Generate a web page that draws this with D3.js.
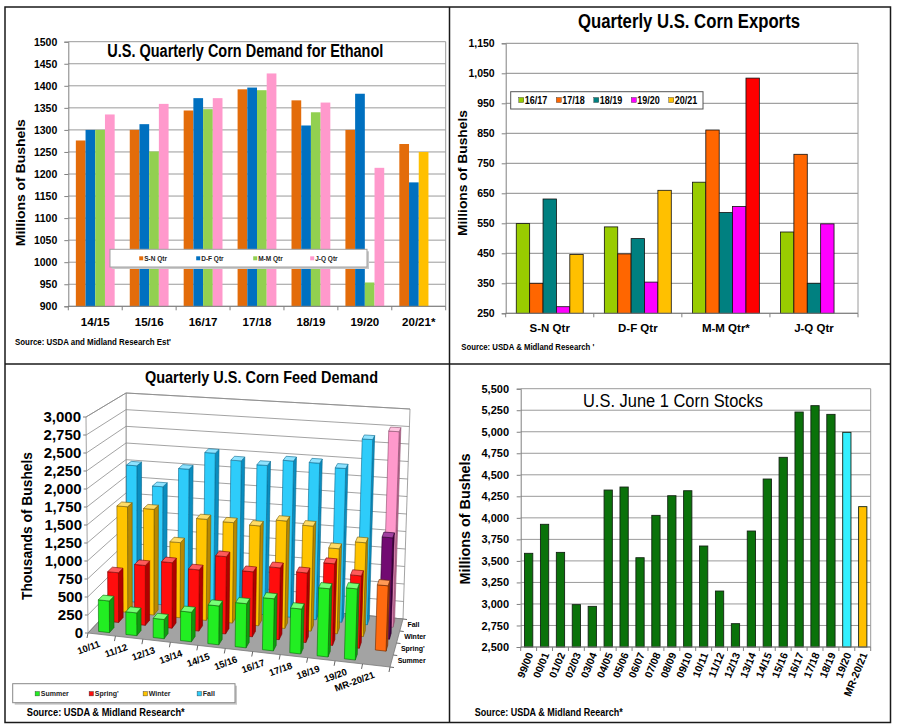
<!DOCTYPE html>
<html><head><meta charset="utf-8">
<script src="https://cdn.jsdelivr.net/npm/d3@7/dist/d3.min.js"></script>
<style>
html,body{margin:0;padding:0;background:#fff;}
svg text{font-family:"Liberation Sans",Arial,Helvetica,sans-serif;}
</style></head><body>
<svg id="chart" width="897" height="728" viewBox="0 0 897 728"></svg>
<script>
// ---------------- DATA ----------------
// Top-left: U.S. Quarterly Corn Demand for Ethanol
const ethCategories = ["14/15","15/16","16/17","17/18","18/19","19/20","20/21*"];
const ethSeries = ["S-N Qtr","D-F Qtr","M-M Qtr","J-Q Qtr"];
const ethSN = [1276,1300,1344,1392,1367,1300,1268];
const ethDF = [1300,1313,1372,1396,1310,1382,1181];
const ethMM = [1300,1251,1347,1390,1340,954,1250];
const ethJQ = [1335,1359,1372,1428,1362,1214,null];
const ethTicks = [900,950,1000,1050,1100,1150,1200,1250,1300,1350,1400,1450,1500];

// Top-right: Quarterly U.S. Corn Exports
const expCategories = ["S-N Qtr","D-F Qtr","M-M Qtr*","J-Q Qtr"];
const expSeries = ["16/17","17/18","18/19","19/20","20/21"];
const exp1617 = [549,538,687,521];
const exp1718 = [350,448,861,780];
const exp1819 = [631,499,586,350];
const exp1920 = [272,354,606,548];
const exp2021 = [446,660,1034,null];
const expTicks = [250,350,450,550,650,750,850,950,1050,1150];

// Bottom-left: Quarterly U.S. Corn Feed Demand (3-D)
const feedCategories = ["10/11","11/12","12/13","13/14","14/15","15/16","16/17","17/18","18/19","19/20","MR-20/21"];
const feedSeries = ["Summer","Spring'","Winter","Fall"];
const feedSummer = [440,315,265,405,530,600,705,605,915,950,null];
const feedSpring = [705,845,920,855,1075,900,990,955,1115,985,885];
const feedWinter = [1525,1520,1075,1440,1425,1410,1510,1470,1185,1300,1400];
const feedFall   = [2010,1730,2015,2275,2190,2150,2240,2235,2185,2620,2755];
const feedTicks = [0,250,500,750,1000,1250,1500,1750,2000,2250,2500,2750,3000];

// Bottom-right: U.S. June 1 Corn Stocks
const stockYears = ["99/00","00/01","01/02","02/03","03/04","04/05","05/06","06/07","07/08","08/09","09/10","10/11","11/12","12/13","13/14","14/15","15/16","16/17","17/18","18/19","19/20","MR-20/21"];
const stockValues = [3588,3925,3599,2992,2972,4323,4358,3537,4029,4257,4315,3673,3150,2771,3847,4451,4703,5229,5303,5202,4993,4130];
const stockTicks = [2500,2750,3000,3250,3500,3750,4000,4250,4500,4750,5000,5250,5500];

// ---------------- HELPERS ----------------
const svg = d3.select("#chart");
svg.append("rect").attr("width",897).attr("height",728).attr("fill","#fff");
const fmt = d3.format(",");
function label(parent, s, o) {
  const t = parent.append("text").text(s)
    .attr("x", o.x).attr("y", o.y)
    .attr("font-size", o.size).attr("font-weight", o.weight || "bold")
    .attr("text-anchor", o.anchor || "start").attr("fill", o.fill || "#000");
  if (o.len) t.attr("textLength", o.len).attr("lengthAdjust", "spacingAndGlyphs");
  if (o.rot) t.attr("transform", `rotate(${o.rot},${o.x},${o.y})`);
  if (o.dy) t.attr("dy", o.dy);
  return t;
}
function styleAxis(g, size) {
  g.select(".domain").attr("stroke", "#808080");
  g.selectAll(".tick line").attr("stroke", "#808080");
  g.selectAll(".tick text").attr("font-size", size).attr("font-weight", "bold")
    .attr("fill", "#000").attr("font-family", '"Liberation Sans",Arial,sans-serif');
}

// ---------------- PANEL FRAMES ----------------
const frame = svg.append("g").attr("stroke", "#1a1a1a").attr("stroke-width", 1.5).attr("fill", "none");
frame.append("rect").attr("x", 5).attr("y", 7).attr("width", 885.5).attr("height", 715.5);
frame.append("line").attr("x1", 449.5).attr("x2", 449.5).attr("y1", 7).attr("y2", 722.5);
frame.append("line").attr("x1", 5).attr("x2", 890.5).attr("y1", 364).attr("y2", 364);

// ---------------- TOP-LEFT: ETHANOL ----------------
(function(){
  const g = svg.append("g");
  const L = 68.3, R = 445.7, Tp = 41.7, Bt = 306.3;
  const y = d3.scaleLinear().domain([900,1500]).range([Bt,Tp]);
  const x0 = d3.scaleBand().domain(ethCategories).range([L,R]).paddingInner(0.28).paddingOuter(0.14);
  const x1 = d3.scaleBand().domain(ethSeries).range([0,x0.bandwidth()]);
  const vals = [ethSN, ethDF, ethMM, ethJQ];
  const colors = ["#E36C0A","#0070C0","#92D050","#FF99CC"];
  g.selectAll("line.grid").data(ethTicks).join("line")
    .attr("x1",L).attr("x2",R).attr("y1",d=>y(d)).attr("y2",d=>y(d))
    .attr("stroke","#9a9a9a").attr("stroke-width",1);
  g.append("line").attr("x1",R).attr("x2",R).attr("y1",Tp).attr("y2",Bt).attr("stroke","#9a9a9a");
  const bars = [];
  ethCategories.forEach((c,i)=>ethSeries.forEach((s,j)=>{
    const v = vals[j][i]; if (v == null) return;
    bars.push({c, s, v, color: (c === "20/21*" && s === "M-M Qtr") ? "#FFC000" : colors[j]});
  }));
  g.selectAll("rect.bar").data(bars).join("rect")
    .attr("x", d=>x0(d.c)+x1(d.s)).attr("width", x1.bandwidth())
    .attr("y", d=>y(d.v)).attr("height", d=>y(900)-y(d.v)).attr("fill", d=>d.color);
  const ay = g.append("g").attr("transform",`translate(${L},0)`)
    .call(d3.axisLeft(y).tickValues(ethTicks).tickSize(4).tickPadding(7).tickFormat(d3.format("d")));
  styleAxis(ay, 10.5);
  g.append("line").attr("x1",L).attr("x2",R).attr("y1",Bt).attr("y2",Bt).attr("stroke","#808080");
  d3.range(ethCategories.length+1).forEach(k=>{
    const xx = L + k*x0.step();
    g.append("line").attr("x1",xx).attr("x2",xx).attr("y1",Bt).attr("y2",Bt+4).attr("stroke","#808080");
  });
  ethCategories.forEach(c=>label(g, c, {x:x0(c)+x0.bandwidth()/2, y:325.5, size:11.5, anchor:"middle"}));
  // legend
  g.append("rect").attr("x",112).attr("y",251.3).attr("width",257).attr("height",17.7).attr("fill","#c8c8c8");
  g.append("rect").attr("x",110).attr("y",249.3).attr("width",257).attr("height",17.7).attr("fill","#fff").attr("stroke","#a0a0a0");
  ethSeries.forEach((s,j)=>{
    const lx = 141.2 + j*57;
    g.append("rect").attr("x",lx-2).attr("y",256.3).attr("width",4).attr("height",4).attr("fill",colors[j]);
    label(g, s, {x:lx+3, y:260.8, size:6.5, fill:"#222"});
  });
  label(g, "U.S. Quarterly  Corn Demand for Ethanol", {x:107.3, y:56.7, size:18, len:276});
  label(g, "Millions of Bushels", {x:20, y:182.7, size:13.5, anchor:"middle", rot:-90, dy:"0.35em", len:127});
  label(g, "Source: USDA and Midland Research Est'", {x:15, y:345, size:9.5, len:156});
})();

// ---------------- TOP-RIGHT: EXPORTS ----------------
(function(){
  const g = svg.append("g");
  const L = 505.7, R = 858, Tp = 43.3, Bt = 313.3;
  const y = d3.scaleLinear().domain([250,1150]).range([Bt,Tp]);
  const x0 = d3.scaleBand().domain(expCategories).range([L,R]).paddingInner(0.24).paddingOuter(0.12);
  const x1 = d3.scaleBand().domain(expSeries).range([0,x0.bandwidth()]);
  const vals = [exp1617, exp1718, exp1819, exp1920, exp2021];
  const colors = ["#99CC00","#FF6600","#008080","#FF00FF","#FFC000"];
  g.selectAll("line.grid").data(expTicks).join("line")
    .attr("x1",L).attr("x2",R).attr("y1",d=>y(d)).attr("y2",d=>y(d))
    .attr("stroke","#8a8a8a");
  g.append("line").attr("x1",R).attr("x2",R).attr("y1",Tp).attr("y2",Bt).attr("stroke","#9a9a9a");
  const bars = [];
  expCategories.forEach((c,i)=>expSeries.forEach((s,j)=>{
    const v = vals[j][i]; if (v == null) return;
    bars.push({c, s, v, color: (c === "M-M Qtr*" && s === "20/21") ? "#FF0000" : colors[j]});
  }));
  g.selectAll("rect.bar").data(bars).join("rect")
    .attr("x", d=>x0(d.c)+x1(d.s)).attr("width", x1.bandwidth())
    .attr("y", d=>y(d.v)).attr("height", d=>y(250)-y(d.v)).attr("fill", d=>d.color)
    .attr("stroke","#111").attr("stroke-width",0.8);
  const ay = g.append("g").attr("transform",`translate(${L},0)`)
    .call(d3.axisLeft(y).tickValues(expTicks).tickSize(4).tickPadding(7).tickFormat(fmt));
  styleAxis(ay, 10.5);
  g.append("line").attr("x1",L).attr("x2",R).attr("y1",Bt).attr("y2",Bt).attr("stroke","#808080");
  d3.range(expCategories.length+1).forEach(k=>{
    const xx = L + k*x0.step();
    g.append("line").attr("x1",xx).attr("x2",xx).attr("y1",Bt).attr("y2",Bt+4).attr("stroke","#808080");
  });
  expCategories.forEach(c=>label(g, c, {x:x0(c)+x0.bandwidth()/2, y:332.3, size:11.5, anchor:"middle"}));
  // legend
  g.append("rect").attr("x",510.7).attr("y",91.7).attr("width",192.3).attr("height",17.3).attr("fill","#fff").attr("stroke","#555");
  expSeries.forEach((s,j)=>{
    const lx = 521.3 + j*37.5;
    g.append("rect").attr("x",lx-2.5).attr("y",97.5).attr("width",5).attr("height",5).attr("fill",colors[j]).attr("stroke","#333").attr("stroke-width",0.4);
    label(g, s, {x:lx+3.5, y:103.8, size:10, len:22.5});
  });
  label(g, "Quarterly U.S. Corn Exports", {x:578, y:28.3, size:19.5, len:222});
  label(g, "Millions of Bushels", {x:462, y:173, size:13.5, anchor:"middle", rot:-90, dy:"0.35em", len:126});
  label(g, "Source: USDA & Midland Research '", {x:461.3, y:350, size:9, len:133});
})();

// ---------------- BOTTOM-RIGHT: JUNE 1 STOCKS ----------------
(function(){
  const g = svg.append("g");
  const L = 520.7, R = 870.7, Tp = 388.7, Bt = 647;
  const y = d3.scaleLinear().domain([2500,5500]).range([Bt,Tp]);
  const x = d3.scaleBand().domain(stockYears).range([L,R]).paddingInner(0.48).paddingOuter(0.24);
  g.selectAll("line.grid").data(stockTicks).join("line")
    .attr("x1",L).attr("x2",R).attr("y1",d=>y(d)).attr("y2",d=>y(d)).attr("stroke","#9a9a9a");
  g.append("line").attr("x1",R).attr("x2",R).attr("y1",Tp).attr("y2",Bt).attr("stroke","#9a9a9a");
  const fillFor = d => d === "19/20" ? "#33F0FF" : d === "MR-20/21" ? "#FFC000" : "#0A720A";
  g.selectAll("rect.bar").data(stockYears).join("rect")
    .attr("x", d=>x(d)).attr("width", x.bandwidth())
    .attr("y", (d,i)=>y(stockValues[i])).attr("height", (d,i)=>y(2500)-y(stockValues[i]))
    .attr("fill", fillFor).attr("stroke","#142414").attr("stroke-width",0.9);
  const ay = g.append("g").attr("transform",`translate(${L},0)`)
    .call(d3.axisLeft(y).tickValues(stockTicks).tickSize(4).tickPadding(7.7).tickFormat(fmt));
  styleAxis(ay, 11);
  g.append("line").attr("x1",L).attr("x2",R).attr("y1",Bt).attr("y2",Bt).attr("stroke","#808080");
  d3.range(stockYears.length+1).forEach(k=>{
    const xx = L + k*x.step();
    g.append("line").attr("x1",xx).attr("x2",xx).attr("y1",Bt).attr("y2",Bt+4).attr("stroke","#808080");
  });
  stockYears.forEach(d=>label(g, d, {x:x(d)+x.bandwidth()/2+1.5, y:653, size:10.5, anchor:"end", rot:-68, dy:"0.35em"}));
  label(g, "U.S. June 1 Corn Stocks", {x:583, y:407, size:18, weight:"normal", len:180});
  label(g, "Millions of Bushels", {x:464.7, y:519, size:14, anchor:"middle", rot:-90, dy:"0.35em", len:131});
  label(g, "Source: USDA & Midland Reearch*", {x:474.7, y:716, size:10, len:148});
})();

// ---------------- BOTTOM-LEFT: 3-D FEED DEMAND ----------------
(function(){
  const g = svg.append("g");
  // floor corners (value 0) and top corners (value 3000): [u=category axis, w=depth]
  const Bc = {c00:[88,633], c10:[390,667], c01:[126,593], c11:[403,619]};
  const Tc = {c00:[86,417], c10:[397.5,440], c01:[126,393], c11:[410,409]};
  const bil = (C,u,w,k) => (1-u)*(1-w)*C.c00[k] + u*(1-w)*C.c10[k] + (1-u)*w*C.c01[k] + u*w*C.c11[k];
  const P = (u,w,v) => [0,1].map(k => bil(Bc,u,w,k)*(1-v) + bil(Tc,u,w,k)*v);
  const vS = d3.scaleLinear().domain([0,3000]).range([0,1]);
  const uS = d3.scaleBand().domain(feedCategories).range([0,1]).paddingInner(0.6).paddingOuter(0.3);
  const wS = d3.scaleBand().domain(feedSeries).range([0,1]).paddingInner(0.5).paddingOuter(0.25);
  const poly = (pts, fill, stroke, sw) => g.append("polygon")
    .attr("points", pts.map(p=>p.join(",")).join(" "))
    .attr("fill", fill).attr("stroke", stroke || "none").attr("stroke-width", sw || 0.6)
    .attr("stroke-linejoin","round");
  // walls and floor
  poly([P(0,1,0),P(1,1,0),P(1,1,1),P(0,1,1)], "#fff", "#8c8c8c", 0.8);
  poly([P(0,0,0),P(0,1,0),P(0,1,1),P(0,0,1)], "#fff", "#8c8c8c", 0.8);
  feedTicks.forEach(t=>{
    const v = vS(t);
    const a = P(0,0,v), b = P(0,1,v), c = P(1,1,v);
    g.append("polyline").attr("points",[a,b,c].map(p=>p.join(",")).join(" "))
      .attr("fill","none").attr("stroke","#8c8c8c").attr("stroke-width",0.8);
    g.append("line").attr("x1",a[0]-3).attr("x2",a[0]).attr("y1",a[1]).attr("y2",a[1]).attr("stroke","#808080");
    label(g, fmt(t), {x:a[0]-5, y:a[1], size:15, anchor:"end", dy:"0.35em"});
  });
  poly([P(0,0,0),P(1,0,0),P(1,1,0),P(0,1,0)], "#a3a3a3", "#7a7a7a", 0.8);
  // category ticks and depth ticks
  d3.range(feedCategories.length+1).forEach(k=>{
    const p = P(k/feedCategories.length,0,0);
    g.append("line").attr("x1",p[0]).attr("y1",p[1]).attr("x2",p[0]-1).attr("y2",p[1]+5).attr("stroke","#666");
  });
  d3.range(feedSeries.length+1).forEach(k=>{
    const p = P(1,k/feedSeries.length,0);
    g.append("line").attr("x1",p[0]).attr("y1",p[1]).attr("x2",p[0]+4).attr("y2",p[1]+0.5).attr("stroke","#666");
  });
  // bars
  const vals = [feedSummer, feedSpring, feedWinter, feedFall];
  const rowCols = [
    ["#22EE22","#0F9A0F","#77FF77","#0a6a0a"],
    ["#FF0D0D","#B00000","#FF5A5A","#7a0000"],
    ["#FFC400","#B88800","#FFDC66","#7a5a00"],
    ["#2ECCFA","#0A8DBF","#8FE3FF","#086a90"]];
  const mrCols = [null,
    ["#FF6A10","#B04400","#FF9A55","#6a2800"],
    ["#720A72","#440044","#A040A0","#2a002a"],
    ["#FF99CC","#C06A96","#FFC4E0","#8a4a6a"]];
  for (let j = feedSeries.length-1; j >= 0; j--) {
    feedCategories.forEach((c,i)=>{
      const val = vals[j][i]; if (val == null) return;
      const u0 = uS(c), u1 = u0 + uS.bandwidth();
      const w0 = wS(feedSeries[j]), w1 = w0 + wS.bandwidth();
      const v = vS(val);
      const col = (c === "MR-20/21" && mrCols[j]) ? mrCols[j] : rowCols[j];
      poly([P(u1,w0,0),P(u1,w1,0),P(u1,w1,v),P(u1,w0,v)], col[1], col[3]);
      poly([P(u0,w0,0),P(u1,w0,0),P(u1,w0,v),P(u0,w0,v)], col[0], col[3]);
      poly([P(u0,w0,v),P(u1,w0,v),P(u1,w1,v),P(u0,w1,v)], col[2], col[3]);
    });
  }
  // category labels
  feedCategories.forEach(c=>{
    const p = P(uS(c)+uS.bandwidth()/2, 0, 0);
    label(g, c, {x:p[0]-1, y:p[1]+12, size:9.5, anchor:"end", rot:-20});
  });
  // depth labels
  feedSeries.forEach(s=>{
    const p = P(1, wS(s)+wS.bandwidth()/2, 0);
    label(g, s, {x:p[0]+6, y:p[1], size:7, dy:"0.35em"});
  });
  // legend
  g.append("rect").attr("x",14.7).attr("y",685.7).attr("width",222.3).attr("height",19).attr("fill","#c8c8c8");
  g.append("rect").attr("x",12.7).attr("y",683.7).attr("width",222.3).attr("height",19).attr("fill","#fff").attr("stroke","#888");
  feedSeries.forEach((s,j)=>{
    const lx = 37.3 + j*54;
    g.append("rect").attr("x",lx-2.2).attr("y",691.5).attr("width",4.4).attr("height",4.4).attr("fill",rowCols[j][0]).attr("stroke","#333").attr("stroke-width",0.4);
    label(g, s, {x:lx+3.5, y:696.2, size:7, fill:"#222"});
  });
  label(g, "Quarterly U.S. Corn Feed Demand", {x:145, y:382.7, size:17, len:233});
  label(g, "Thousands of Bushels", {x:27, y:526, size:14, anchor:"middle", rot:-90, dy:"0.35em", len:148});
  label(g, "Source: USDA & Midland Research*", {x:26.7, y:716, size:10.5, len:158});
})();
</script></body></html>
